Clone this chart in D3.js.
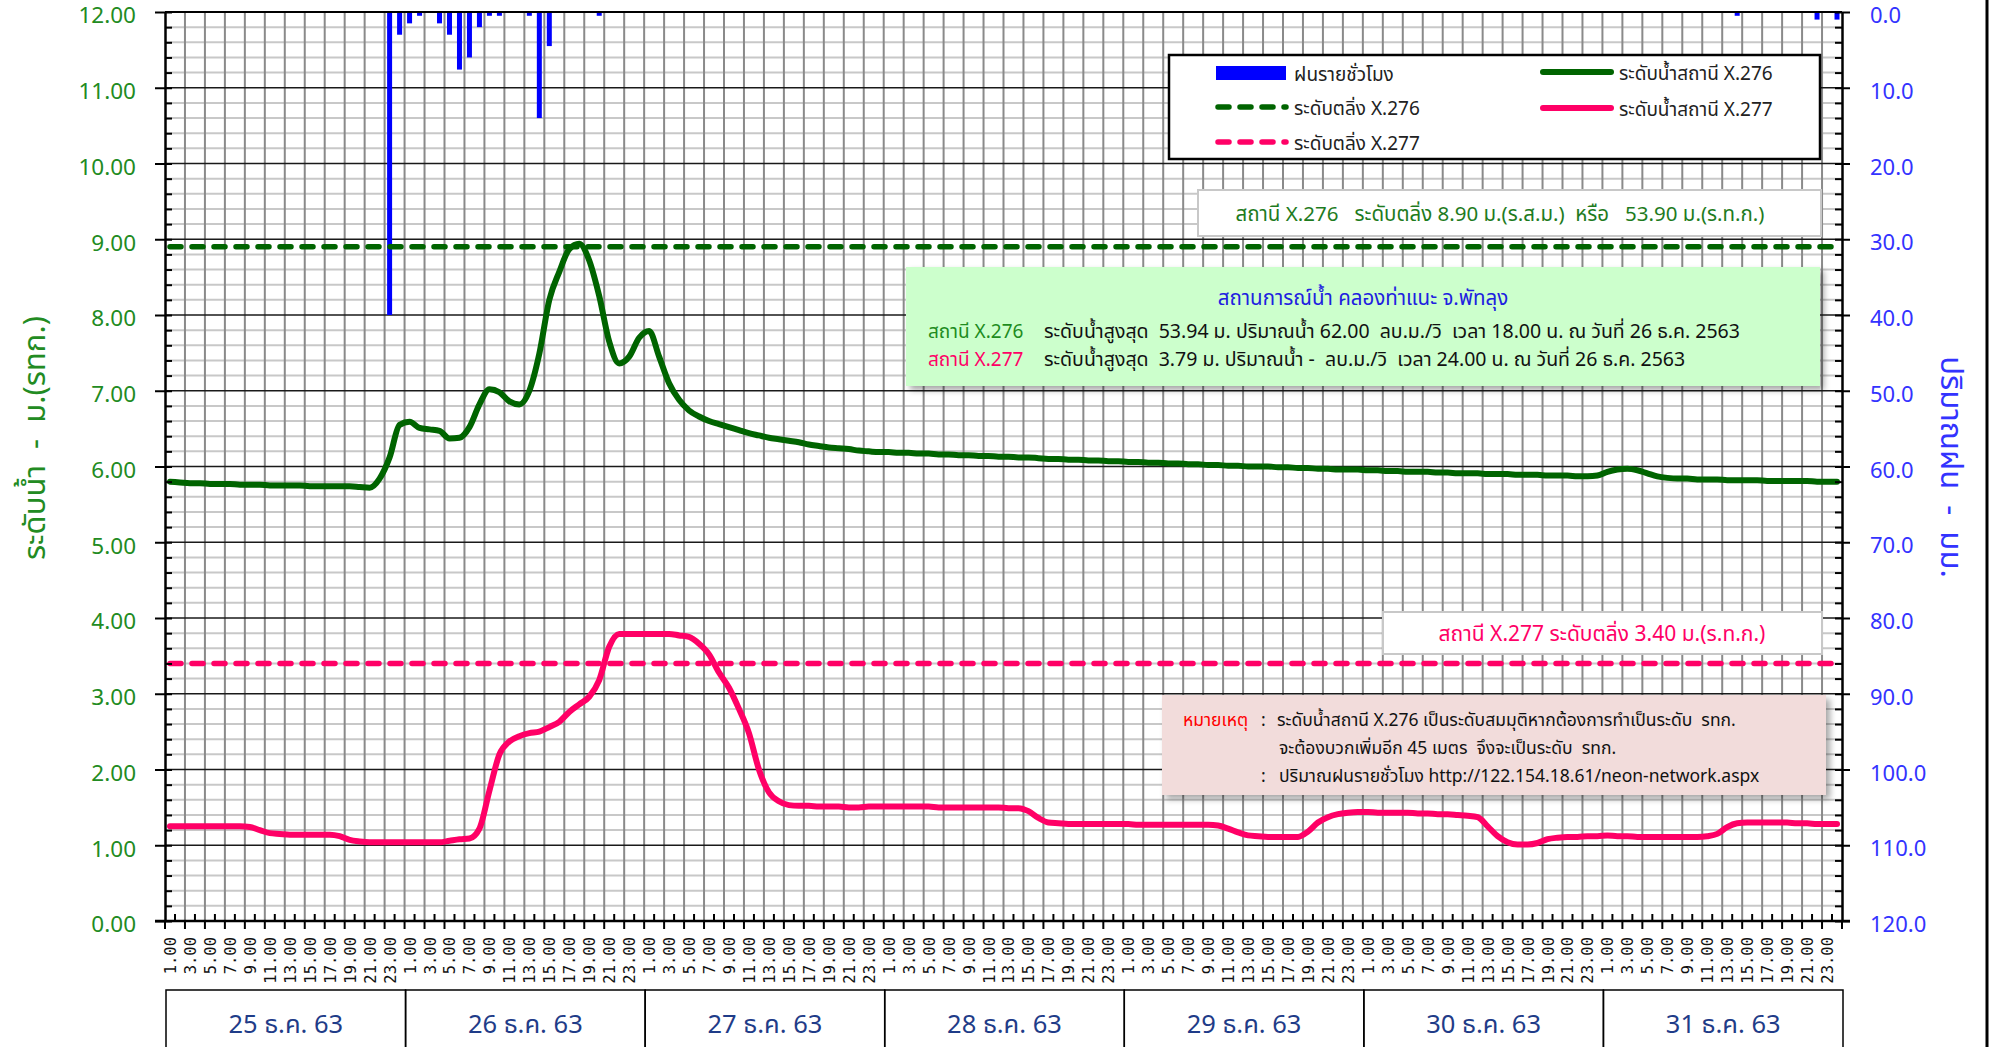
<!DOCTYPE html>
<html>
<head>
<meta charset="utf-8">
<script src="https://cdn.jsdelivr.net/npm/d3@7"></script>
<style>
  body { margin: 0; background: #fff; }
  svg { display: block; font-family: Tahoma, "Noto Sans Thai", "Noto Sans", sans-serif; }
  svg text { white-space: pre; }
</style>
</head>
<body>
<svg id="chart" width="2003" height="1047"></svg>
<script>
// day labels and hour ticks
const days = ["25 ธ.ค. 63", "26 ธ.ค. 63", "27 ธ.ค. 63", "28 ธ.ค. 63", "29 ธ.ค. 63", "30 ธ.ค. 63", "31 ธ.ค. 63"];
const hours = ["1.00","2.00","3.00","4.00","5.00","6.00","7.00","8.00","9.00","10.00","11.00","12.00",
               "13.00","14.00","15.00","16.00","17.00","18.00","19.00","20.00","21.00","22.00","23.00","24.00"];
const hourTicks = ["1.00","3.00","5.00","7.00","9.00","11.00","13.00","15.00","17.00","19.00","21.00","23.00"];

// hourly rain (mm), one array per day
const rain25 = [0,0,0,0,0,0,0,0,0,0,0,0,0,0,0,0,0,0,0,0,0,0,40.0,3.0];
const rain26 = [1.5,0.5,0,1.5,3.0,7.6,6.0,2.0,0.5,0.5,0,0,0.5,14.0,4.5,0,0,0,0,0.5,0,0,0,0];
const rain27 = [0,0,0,0,0,0,0,0,0,0,0,0,0,0,0,0,0,0,0,0,0,0,0,0];
const rain28 = [0,0,0,0,0,0,0,0,0,0,0,0,0,0,0,0,0,0,0,0,0,0,0,0];
const rain29 = [0,0,0,0,0,0,0,0,0,0,0,0,0,0,0,0,0,0,0,0,0,0,0,0];
const rain30 = [0,0,0,0,0,0,0,0,0,0,0,0,0,0,0,0,0,0,0,0,0,0,0,0];
const rain31 = [0,0,0,0,0,0,0,0,0,0,0,0,0,0.5,0,0,0,0,0,0,0,1.0,0,1.0];

// water level X.276 (m)
const x276d25 = [5.80,5.79,5.78,5.78,5.77,5.77,5.77,5.76,5.76,5.76,5.75,5.75,5.75,5.75,5.74,5.74,5.74,5.74,5.74,5.73,5.72,5.84,6.12,6.55];
const x276d26 = [6.59,6.51,6.49,6.47,6.37,6.38,6.52,6.82,7.02,6.98,6.86,6.82,7.00,7.49,8.20,8.57,8.87,8.94,8.72,8.25,7.65,7.36,7.45,7.70];
const x276d27 = [7.79,7.45,7.10,6.88,6.74,6.66,6.60,6.56,6.52,6.48,6.44,6.41,6.38,6.36,6.34,6.32,6.29,6.27,6.25,6.24,6.23,6.21,6.20,6.19];
const x276d28 = [6.19,6.18,6.18,6.17,6.17,6.16,6.16,6.15,6.15,6.14,6.14,6.13,6.13,6.12,6.12,6.11,6.10,6.10,6.09,6.09,6.08,6.08,6.07,6.07];
const x276d29 = [6.06,6.06,6.05,6.05,6.04,6.04,6.03,6.03,6.02,6.02,6.01,6.01,6.00,6.00,6.00,5.99,5.99,5.98,5.98,5.97,5.97,5.96,5.96,5.96];
const x276d30 = [5.95,5.95,5.94,5.94,5.93,5.93,5.93,5.92,5.92,5.91,5.91,5.91,5.90,5.90,5.90,5.89,5.89,5.89,5.88,5.88,5.88,5.87,5.87,5.88];
const x276d31 = [5.93,5.96,5.97,5.95,5.91,5.87,5.85,5.84,5.84,5.83,5.83,5.83,5.82,5.82,5.82,5.82,5.81,5.81,5.81,5.81,5.81,5.80,5.80,5.80];

// water level X.277 (m)
const x277d25 = [1.25,1.25,1.25,1.25,1.25,1.25,1.25,1.25,1.24,1.20,1.16,1.15,1.14,1.14,1.14,1.14,1.14,1.12,1.07,1.05,1.04,1.04,1.04,1.04];
const x277d26 = [1.04,1.04,1.04,1.04,1.06,1.08,1.09,1.22,1.72,2.20,2.37,2.44,2.48,2.50,2.56,2.63,2.76,2.86,2.96,3.18,3.62,3.79,3.79,3.79];
const x277d27 = [3.79,3.79,3.79,3.77,3.75,3.66,3.52,3.28,3.08,2.80,2.48,2.00,1.70,1.58,1.53,1.52,1.52,1.51,1.51,1.51,1.50,1.50,1.51,1.51];
const x277d28 = [1.51,1.51,1.51,1.51,1.51,1.50,1.50,1.50,1.50,1.50,1.50,1.50,1.49,1.49,1.45,1.36,1.30,1.29,1.28,1.28,1.28,1.28,1.28,1.28];
const x277d29 = [1.28,1.27,1.27,1.27,1.27,1.27,1.27,1.27,1.27,1.26,1.22,1.17,1.13,1.12,1.11,1.11,1.11,1.11,1.18,1.30,1.37,1.41,1.43,1.44];
const x277d30 = [1.44,1.43,1.43,1.43,1.43,1.42,1.42,1.41,1.41,1.40,1.39,1.37,1.25,1.12,1.04,1.01,1.01,1.03,1.08,1.10,1.11,1.11,1.12,1.12];
const x277d31 = [1.13,1.12,1.12,1.11,1.11,1.11,1.11,1.11,1.11,1.11,1.12,1.15,1.24,1.29,1.30,1.30,1.30,1.30,1.30,1.29,1.29,1.28,1.28,1.28];

const bank276 = 8.90;
const bank277 = 3.40;

const rain = [].concat(rain25, rain26, rain27, rain28, rain29, rain30, rain31);
const lvl276 = [].concat(x276d25, x276d26, x276d27, x276d28, x276d29, x276d30, x276d31);
const lvl277 = [].concat(x277d25, x277d26, x277d27, x277d28, x277d29, x277d30, x277d31);

const cats = [];
days.forEach((d, i) => hours.forEach(h => cats.push(i + "|" + h)));

const C_GREEN = "#006400", C_PINK = "#ff0066", C_BLUE = "#0000ff";
const pLeft = 165, pRight = 1842, pTop = 12, pBottom = 921;

const svg = d3.select("#chart");

const defs = svg.append("defs");
const sh = defs.append("filter").attr("id", "shadow").attr("x", "-5%").attr("y", "-10%").attr("width", "115%").attr("height", "130%");
sh.append("feDropShadow").attr("dx", 4).attr("dy", 4).attr("stdDeviation", 3).attr("flood-color", "#000").attr("flood-opacity", 0.35);

const x = d3.scaleBand().domain(cats).range([pLeft, pRight]);
const bw = x.bandwidth();
const yL = d3.scaleLinear().domain([0, 12]).range([pBottom, pTop]);
const yR = d3.scaleLinear().domain([0, 120]).range([pTop, pBottom]);

// horizontal grid
const grid = svg.append("g");
grid.selectAll(".hmin").data(d3.range(0, 60).map(i => i / 5).filter(v => Math.round(v * 5) % 5 !== 0))
  .join("line").attr("x1", pLeft).attr("x2", pRight)
  .attr("y1", d => yL(d)).attr("y2", d => yL(d))
  .attr("stroke", "#c8c8c8").attr("stroke-width", 2);

// vertical grid every 2 hours
grid.selectAll(".v").data(cats.filter((c, i) => i % 2 === 0 && i > 0))
  .join("line").attr("x1", d => x(d)).attr("x2", d => x(d))
  .attr("y1", pTop).attr("y2", pBottom)
  .attr("stroke", "#8a8a8a").attr("stroke-width", 2);

grid.selectAll(".hmaj").data(d3.range(0, 13))
  .join("line").attr("x1", pLeft).attr("x2", pRight)
  .attr("y1", d => yL(d)).attr("y2", d => yL(d))
  .attr("stroke", "#1a1a1a").attr("stroke-width", 1.5);

// rain bars hanging from top
svg.append("g").selectAll("rect")
  .data(cats.map((c, i) => ({ c, v: rain[i] })).filter(d => d.v > 0))
  .join("rect")
  .attr("x", d => x(d.c) + bw * 0.25)
  .attr("width", bw * 0.5)
  .attr("y", yR(0))
  .attr("height", d => yR(d.v) - yR(0))
  .attr("fill", C_BLUE);

// bank levels
[[bank276, C_GREEN], [bank277, C_PINK]].forEach(([v, col]) => {
  svg.append("line")
    .attr("x1", pLeft + 5).attr("x2", pRight - 4)
    .attr("y1", yL(v)).attr("y2", yL(v))
    .attr("stroke", col).attr("stroke-width", 5.5)
    .attr("stroke-linecap", "round")
    .attr("stroke-dasharray", "11,11");
});

// water level lines
const line = d3.line()
  .x(d => x(d.c) + bw / 2)
  .y(d => yL(d.v))
  .curve(d3.curveMonotoneX);

[[lvl277, C_PINK], [lvl276, C_GREEN]].forEach(([arr, col]) => {
  svg.append("path")
    .datum(cats.map((c, i) => ({ c, v: arr[i] })))
    .attr("d", line)
    .attr("fill", "none")
    .attr("stroke", col)
    .attr("stroke-width", 6)
    .attr("stroke-linejoin", "round")
    .attr("stroke-linecap", "round");
});

// left axis
const axL = svg.append("g").attr("transform", `translate(${pLeft},0)`)
  .call(d3.axisLeft(yL).tickValues(d3.range(0, 13)).tickFormat(d3.format(".2f"))
    .tickSize(10).tickSizeOuter(0).tickPadding(19));
axL.attr("font-family", null);
axL.selectAll("text").attr("font-size", 22.5).attr("fill", "#228b22").attr("dy", "0.48em");
axL.select(".domain").attr("stroke", "#000").attr("stroke-width", 2.5);
axL.selectAll(".tick line").attr("stroke", "#000").attr("stroke-width", 2);
svg.append("g").attr("transform", `translate(${pLeft},0)`)
  .call(d3.axisRight(yL).tickValues(d3.range(0, 61).map(i => i / 5)).tickFormat("").tickSize(7).tickSizeOuter(0))
  .call(g => g.select(".domain").remove())
  .selectAll(".tick line").attr("stroke", "#000").attr("stroke-width", 2);

// right axis
const axR = svg.append("g").attr("transform", `translate(${pRight},0)`)
  .call(d3.axisRight(yR).tickValues(d3.range(0, 121, 10)).tickFormat(d3.format(".1f"))
    .tickSize(8).tickSizeOuter(0).tickPadding(20));
axR.attr("font-family", null);
axR.selectAll("text").attr("font-size", 22).attr("fill", "#3333ff").attr("dy", "0.48em");
axR.select(".domain").attr("stroke", "#000").attr("stroke-width", 2.5);
axR.selectAll(".tick line").attr("stroke", "#000").attr("stroke-width", 2);
svg.append("g").attr("transform", `translate(${pRight},0)`)
  .call(d3.axisLeft(yR).tickValues(d3.range(0, 121, 2)).tickFormat("").tickSize(7).tickSizeOuter(0))
  .call(g => g.select(".domain").remove())
  .selectAll(".tick line").attr("stroke", "#000").attr("stroke-width", 2);

// top border
svg.append("line").attr("x1", pLeft).attr("x2", pRight).attr("y1", pTop).attr("y2", pTop)
  .attr("stroke", "#000").attr("stroke-width", 2);

// bottom axis: ticks at hour boundaries
const axB = svg.append("g");
axB.append("line").attr("x1", pLeft - 10).attr("x2", pRight + 8).attr("y1", pBottom).attr("y2", pBottom)
  .attr("stroke", "#000").attr("stroke-width", 2.5);
axB.selectAll(".tmin").data(cats.filter((c, i) => i % 2 === 1))
  .join("line").attr("x1", d => x(d)).attr("x2", d => x(d))
  .attr("y1", pBottom - 7).attr("y2", pBottom).attr("stroke", "#000").attr("stroke-width", 2);
axB.selectAll(".tmaj").data(cats.filter((c, i) => i % 2 === 0).concat(["end"]))
  .join("line").attr("x1", d => d === "end" ? pRight : x(d)).attr("x2", d => d === "end" ? pRight : x(d))
  .attr("y1", pBottom).attr("y2", pBottom + 8).attr("stroke", "#000").attr("stroke-width", 2);

axB.selectAll(".hl").data(cats.filter(c => hourTicks.includes(c.split("|")[1])))
  .join("text")
  .attr("transform", d => `translate(${x(d) + bw / 2 + 1},937) rotate(-90)`)
  .attr("text-anchor", "end")
  .attr("dominant-baseline", "central")
  .attr("font-family", "'DejaVu Sans Mono', monospace")
  .attr("font-size", 15.5)
  .attr("fill", "#111")
  .text(d => d.split("|")[1]);

// day boxes
const dayG = svg.append("g");
days.forEach((d, i) => {
  const x0 = x(i + "|1.00");
  const x1 = i < days.length - 1 ? x((i + 1) + "|1.00") : pRight;
  dayG.append("rect").attr("x", x0 + 1).attr("y", 990).attr("width", x1 - x0).attr("height", 70)
    .attr("fill", "none").attr("stroke", "#000").attr("stroke-width", 1.5);
  dayG.append("text").attr("x", (x0 + x1) / 2 + 1).attr("y", 1025)
    .attr("text-anchor", "middle").attr("dominant-baseline", "central")
    .attr("font-size", 25.5).attr("fill", "#1f3c88").text(d);
});

// axis titles
svg.append("text").attr("transform", "translate(35,438) rotate(-90)")
  .attr("text-anchor", "middle").attr("dominant-baseline", "central")
  .attr("font-size", 31).attr("fill", "#228b22").text("ระดับน้ำ  -  ม.(รทก.)");
svg.append("text").attr("transform", "translate(1950,467) rotate(90)")
  .attr("text-anchor", "middle").attr("dominant-baseline", "central")
  .attr("font-size", 31).attr("fill", "#3333ff").text("ปริมาณฝน  -  มม.");

// outer frame line on right
svg.append("line").attr("x1", 1987).attr("x2", 1987).attr("y1", 0).attr("y2", 1047)
  .attr("stroke", "#000").attr("stroke-width", 3);

// legend
const lg = svg.append("g");
lg.append("rect").attr("x", 1169).attr("y", 55).attr("width", 651).attr("height", 104)
  .attr("fill", "#fff").attr("stroke", "#000").attr("stroke-width", 2.5);
lg.append("rect").attr("x", 1216).attr("y", 66).attr("width", 70).attr("height", 14).attr("fill", C_BLUE);
const legTxt = (tx, ty, s) => lg.append("text").attr("x", tx).attr("y", ty)
  .attr("dominant-baseline", "central").attr("font-size", 19).attr("fill", "#222").text(s);
legTxt(1294, 75, "ฝนรายชั่วโมง");
[[107, C_GREEN, "ระดับตลิ่ง X.276"], [142, C_PINK, "ระดับตลิ่ง X.277"]].forEach(([ty, col, s]) => {
  lg.append("line").attr("x1", 1218).attr("x2", 1286).attr("y1", ty).attr("y2", ty)
    .attr("stroke", col).attr("stroke-width", 5.5).attr("stroke-linecap", "round").attr("stroke-dasharray", "11,11");
  legTxt(1294, ty + 2, s);
});
[[72, C_GREEN, "ระดับน้ำสถานี X.276"], [108, C_PINK, "ระดับน้ำสถานี X.277"]].forEach(([ty, col, s]) => {
  lg.append("line").attr("x1", 1543).attr("x2", 1611).attr("y1", ty).attr("y2", ty)
    .attr("stroke", col).attr("stroke-width", 6).attr("stroke-linecap", "round");
  legTxt(1619, ty + 2, s);
});

// bank X.276 box
svg.append("rect").attr("x", 1198).attr("y", 190).attr("width", 623).attr("height", 46)
  .attr("fill", "#fff").attr("stroke", "#c8c8c8").attr("stroke-width", 2);
svg.append("text").attr("x", 1500).attr("y", 214).attr("text-anchor", "middle").attr("dominant-baseline", "central")
  .attr("font-size", 20.5).attr("fill", "#1e7b1e")
  .text("สถานี X.276   ระดับตลิ่ง 8.90 ม.(ร.ส.ม.)  หรือ   53.90 ม.(ร.ท.ก.)");

// situation box
const sit = svg.append("g");
sit.append("rect").attr("x", 906).attr("y", 267).attr("width", 914).attr("height", 119)
  .attr("fill", "#ccffcc").attr("filter", "url(#shadow)");
sit.append("text").attr("x", 1363).attr("y", 298).attr("text-anchor", "middle").attr("dominant-baseline", "central")
  .attr("font-size", 20.5).attr("fill", "#2020e0").text("สถานการณ์น้ำ คลองท่าแนะ จ.พัทลุง");
[[332, "#1e8c1e", "สถานี X.276", "ระดับน้ำสูงสุด  53.94 ม. ปริมาณน้ำ 62.00  ลบ.ม./วิ  เวลา 18.00 น. ณ วันที่ 26 ธ.ค. 2563"],
 [360, C_PINK, "สถานี X.277", "ระดับน้ำสูงสุด  3.79 ม. ปริมาณน้ำ -  ลบ.ม./วิ  เวลา 24.00 น. ณ วันที่ 26 ธ.ค. 2563"]]
  .forEach(([ty, col, a, b]) => {
    sit.append("text").attr("x", 928).attr("y", ty).attr("dominant-baseline", "central")
      .attr("font-size", 19).attr("fill", col).text(a);
    sit.append("text").attr("x", 1044).attr("y", ty).attr("dominant-baseline", "central")
      .attr("font-size", 19.5).attr("fill", "#111").text(b);
  });

// bank X.277 box
svg.append("rect").attr("x", 1383).attr("y", 612).attr("width", 439).attr("height", 42)
  .attr("fill", "#fff").attr("stroke", "#c8c8c8").attr("stroke-width", 2);
svg.append("text").attr("x", 1602).attr("y", 634).attr("text-anchor", "middle").attr("dominant-baseline", "central")
  .attr("font-size", 21).attr("fill", C_PINK).text("สถานี X.277 ระดับตลิ่ง 3.40 ม.(ร.ท.ก.)");

// note box
const note = svg.append("g");
note.append("rect").attr("x", 1162).attr("y", 695).attr("width", 664).attr("height", 100)
  .attr("fill", "#f2dcdb").attr("filter", "url(#shadow)");
const noteTxt = (tx, ty, s, col) => note.append("text").attr("x", tx).attr("y", ty)
  .attr("dominant-baseline", "central").attr("font-size", 17.5).attr("fill", col || "#111").text(s);
noteTxt(1183, 720, "หมายเหตุ", "#ff0000");
noteTxt(1261, 720, ":");
noteTxt(1277, 720, "ระดับน้ำสถานี X.276 เป็นระดับสมมุติหากต้องการทำเป็นระดับ  รทก.");
noteTxt(1279, 748, "จะต้องบวกเพิ่มอีก 45 เมตร  จึงจะเป็นระดับ  รทก.");
noteTxt(1261, 776, ":");
noteTxt(1279, 776, "ปริมาณฝนรายชั่วโมง http://122.154.18.61/neon-network.aspx");
</script>
</body>
</html>
